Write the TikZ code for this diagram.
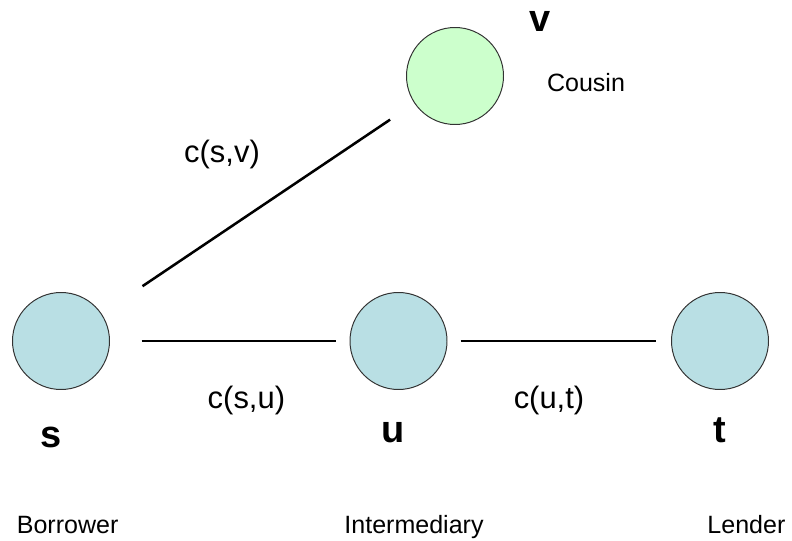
\documentclass[tikz,border=0pt]{standalone}
\usepackage{fontspec}
\setmainfont{Liberation Sans}
\usetikzlibrary{positioning}
\definecolor{cblue}{HTML}{B9DFE4}
\definecolor{cgreen}{HTML}{CCFFCC}
\definecolor{cedge}{HTML}{333333}
\tikzset{
  vertex/.style={circle, draw=cedge, fill=#1, line width=0.7pt, minimum size=2.425cm, inner sep=0pt},
  vertex/.default=cblue,
  link/.style={draw=black, line width=1.8pt},
  letter/.style={font=\fontsize{27}{30}\selectfont\bfseries, anchor=base},
  weight/.style={font=\fontsize{22}{26}\selectfont, anchor=base},
  role/.style={font=\fontsize{17.8}{21}\selectfont, anchor=base},
}
\begin{document}
\begin{tikzpicture}
  \useasboundingbox (0,0) rectangle (19.8,13.5);

  \node[vertex] (s) at (1.525,4.975) {};
  \node[vertex] (u) at (9.9625,4.975) {};
  \node[vertex] (t) at (18.0,4.975) {};
  \node[vertex=cgreen] (v) at (11.375,11.6) {};

  \draw[link, shorten <=1.23cm, shorten >=0.73cm] (s) -- (v);
  \draw[link, shorten <=0.79cm, shorten >=0.35cm] (s) -- (u);
  \draw[link, shorten <=0.33cm, shorten >=0.375cm] (u) -- (t);

  \node[weight] (sv) at (5.55,9.425) {c(s,v)};
  \node[weight] (su) at (6.16,3.3) {c(s,u)};
  \node[weight] (ut) at (13.725,3.3) {c(u,t)};

  \node[letter] (ls) at (1.275,2.325) {s};
  \node[letter] (lu) at (9.825,2.45) {u};
  \node[letter] (lt) at (18.0,2.45) {t};
  \node[letter] (lv) at (13.5,12.7) {v};

  \node[role] (rs) at (1.69,0.175) {Borrower};
  \node[role] (ru) at (10.35,0.175) {Intermediary};
  \node[role] (rt) at (18.66,0.175) {Lender};
  \node[role] (rv) at (14.65,11.2) {Cousin};
\end{tikzpicture}
\end{document}
